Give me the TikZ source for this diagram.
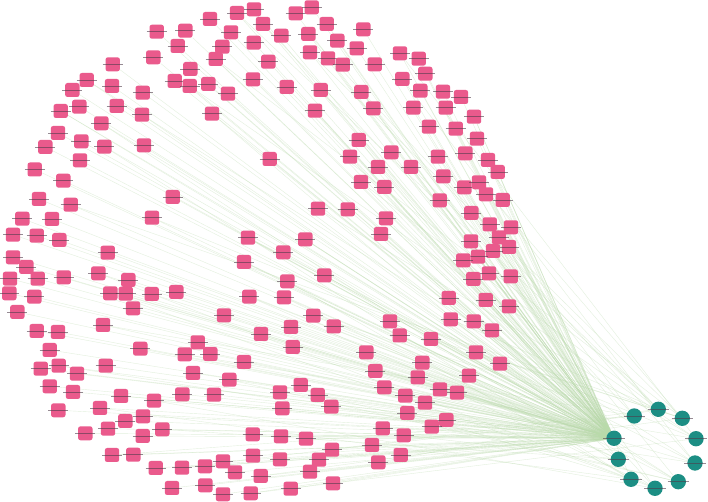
\documentclass[tikz,border=0pt]{standalone}
\usepackage{tikz}
\usetikzlibrary{backgrounds}

\tikzset{
  gene/.style={rectangle, rounded corners=1.8pt, fill={rgb, 255:red, 234; green, 90; blue, 140}, minimum width=10.8pt, minimum height=10.5pt, inner sep=0pt},
  hub/.style={circle, fill={rgb, 255:red, 28; green, 142; blue, 132}, minimum size=11.5pt, inner sep=0pt},
  tag/.style={draw={rgb, 255:red, 80; green, 60; blue, 75}, line width=0.55pt, draw opacity=0.6},
  link/.style={draw={rgb, 255:red, 185; green, 218; blue, 170}, line width=0.3pt, draw opacity=0.4},
}

%pink nodes (x/y in px)
\def\genelist{156.7/31.7, 185.3/30.7, 210/19, 237/13, 177.7/46, 231/32.3, 222.3/46.7, 215.7/59, 153.3/57.3, 190.3/69, 174.7/81, 189.7/86, 208.3/84, 228/93.7, 112.7/64.3, 86.7/80, 72.3/90, 112/86, 142.7/92.7, 60.7/111, 79.3/106.7, 116.7/106, 142/114.7, 101.3/123.3, 58/133, 81.3/141.3, 45.3/147, 104.3/146.7, 144/145.3, 80/160.3, 34.7/169.5, 212/113.7,
254/9.3, 295.7/13.3, 311.7/7.3, 263/24, 326.7/24, 363.3/29.3, 281.3/35.7, 308.3/34, 253.7/42.7, 337.3/40.7, 356.7/48.3, 310/52.3, 328/58.3, 342.7/64.7, 374.7/64.3, 400/53.3, 418.7/58.7, 268.3/61.7, 425.3/73.7, 402.3/79, 253/79.3, 286.7/87, 320.7/90, 361.3/92, 420.3/90.7, 443/91.7, 461/97, 315/110.7, 373.3/108.3, 413.3/107.7, 445.7/107.7, 474/116.7, 429/126.7, 455.7/128.7, 477/138.7, 358.7/140, 391.3/152.3, 350/156.7, 269.7/159, 438/156.7, 465.3/153.3, 488/160, 378/167, 411/167, 497.7/172,
63.3/180.7, 39/199, 70.7/204.7, 172.7/197, 22.3/218.7, 52/219, 152/217.7, 13/234.7, 36.7/235.7, 59.3/240, 248/237.7, 107.7/252.7, 13/257.3, 26.3/267, 244/262, 10/278.7, 37.7/278.7, 63.7/277.3, 98.3/273.3, 128.3/280, 9.3/293.3, 34.3/296.7, 110.3/293.3, 125.7/293.7, 151.7/294, 176.3/292, 249.3/296.7, 17.3/312, 133/308.3, 224/315.3, 103/325, 36.7/331, 58/332, 261/334,
361/182, 384.3/187, 443.3/176.3, 464.3/187.3, 479/182.3, 486/194.3, 502.7/200, 439.7/200.3, 318/208.7, 347.7/209.3, 386/218.3, 381/234, 471.3/213, 489.7/224.3, 511/227.3, 499/237.3, 305.3/239.3, 471/241.3, 509/247, 283.3/252.3, 493/251, 478/256.7, 463.3/260.3, 324.3/275.3, 287.3/281.3, 489/273.3, 510.7/276.3, 473.3/279, 284/297.3, 448.7/298, 485.7/300, 509/306.3, 313.3/315.7, 291/327, 333.7/326.5, 390/321.3, 450.7/319.3, 473.7/321.3, 492/330.3, 399.7/335.5, 431/339,
49.7/350, 140.3/348.7, 197.7/342.3, 184.7/354.3, 210.3/354, 244/362, 40.7/368.7, 58.7/365.7, 77/373.7, 105.7/365.7, 193/373, 229.3/379.7, 49.7/386.3, 73/392, 121/396, 154/400.7, 182.3/394.3, 214/394.7, 58.3/410.3, 100/408, 125.3/421, 143/416.3, 108/428.7, 162.3/429.3, 85.3/433.3, 142.7/436, 252.7/434.3, 112/455, 133.3/454.7, 253/455.7, 155.7/468, 182/467.7, 205/466.3, 223/461.3, 235/472.3, 260.7/476, 172/488, 205.3/485.3, 223/494.3, 250.7/493.3,
292.7/347, 366.3/352.3, 422.3/362.7, 375.3/371, 417.7/377.3, 300.7/385, 280/392.3, 317.7/395, 384.3/387.3, 405.3/395.7, 440/389.5, 457/392.7, 282.3/408.3, 331.3/406.7, 425/402.7, 407.3/413, 446.3/420, 431.7/426.7, 382.7/428.3, 403.7/435.3, 281/436.3, 306/438.7, 372/445, 332/449.7, 319/459.7, 280/459.3, 400.7/455, 378.3/462.3, 310/471.7, 333/483.3, 290.7/488.7,
476/352.3, 500/363.7, 469/375.7}

\begin{document}
\begin{tikzpicture}[x=0.75pt,y=0.75pt,yscale=-1,xscale=1]
%set diagram left start at 0, and has height of 502
\useasboundingbox (0,0) rectangle (708,502);
\begin{pgfonlayer}{background}
  \fill[white] (0,0) rectangle (708,502);
\end{pgfonlayer}

%teal ring
\foreach \x/\y [count=\i] in {614/438.3, 634.3/416, 658.3/409.3, 682.3/418.3, 696/438.7, 695/463, 678.3/481.7, 655/488.3, 631/479.3, 618.3/459.3} {
  \node[hub] (h\i) at (\x,\y) {};
  \draw[tag] ([xshift=-8pt]h\i.center) -- ([xshift=8pt]h\i.center);
}

%pink nodes and their links
\foreach \x/\y [count=\i] in \genelist {
  \node[gene] (p\i) at (\x,\y) {};
  \draw[tag] ([xshift=-7.5pt]p\i.center) -- ([xshift=7.5pt]p\i.center);
  \begin{pgfonlayer}{background}
    \draw[link] (p\i) -- (h1);
    \pgfmathtruncatemacro\r{mod(\i,4)}
    \ifnum\r=0
      \pgfmathtruncatemacro\t{2+mod(\i/4,9)}
      \draw[link] (p\i) -- (h\t);
    \fi
  \end{pgfonlayer}
}

\end{tikzpicture}
\end{document}
